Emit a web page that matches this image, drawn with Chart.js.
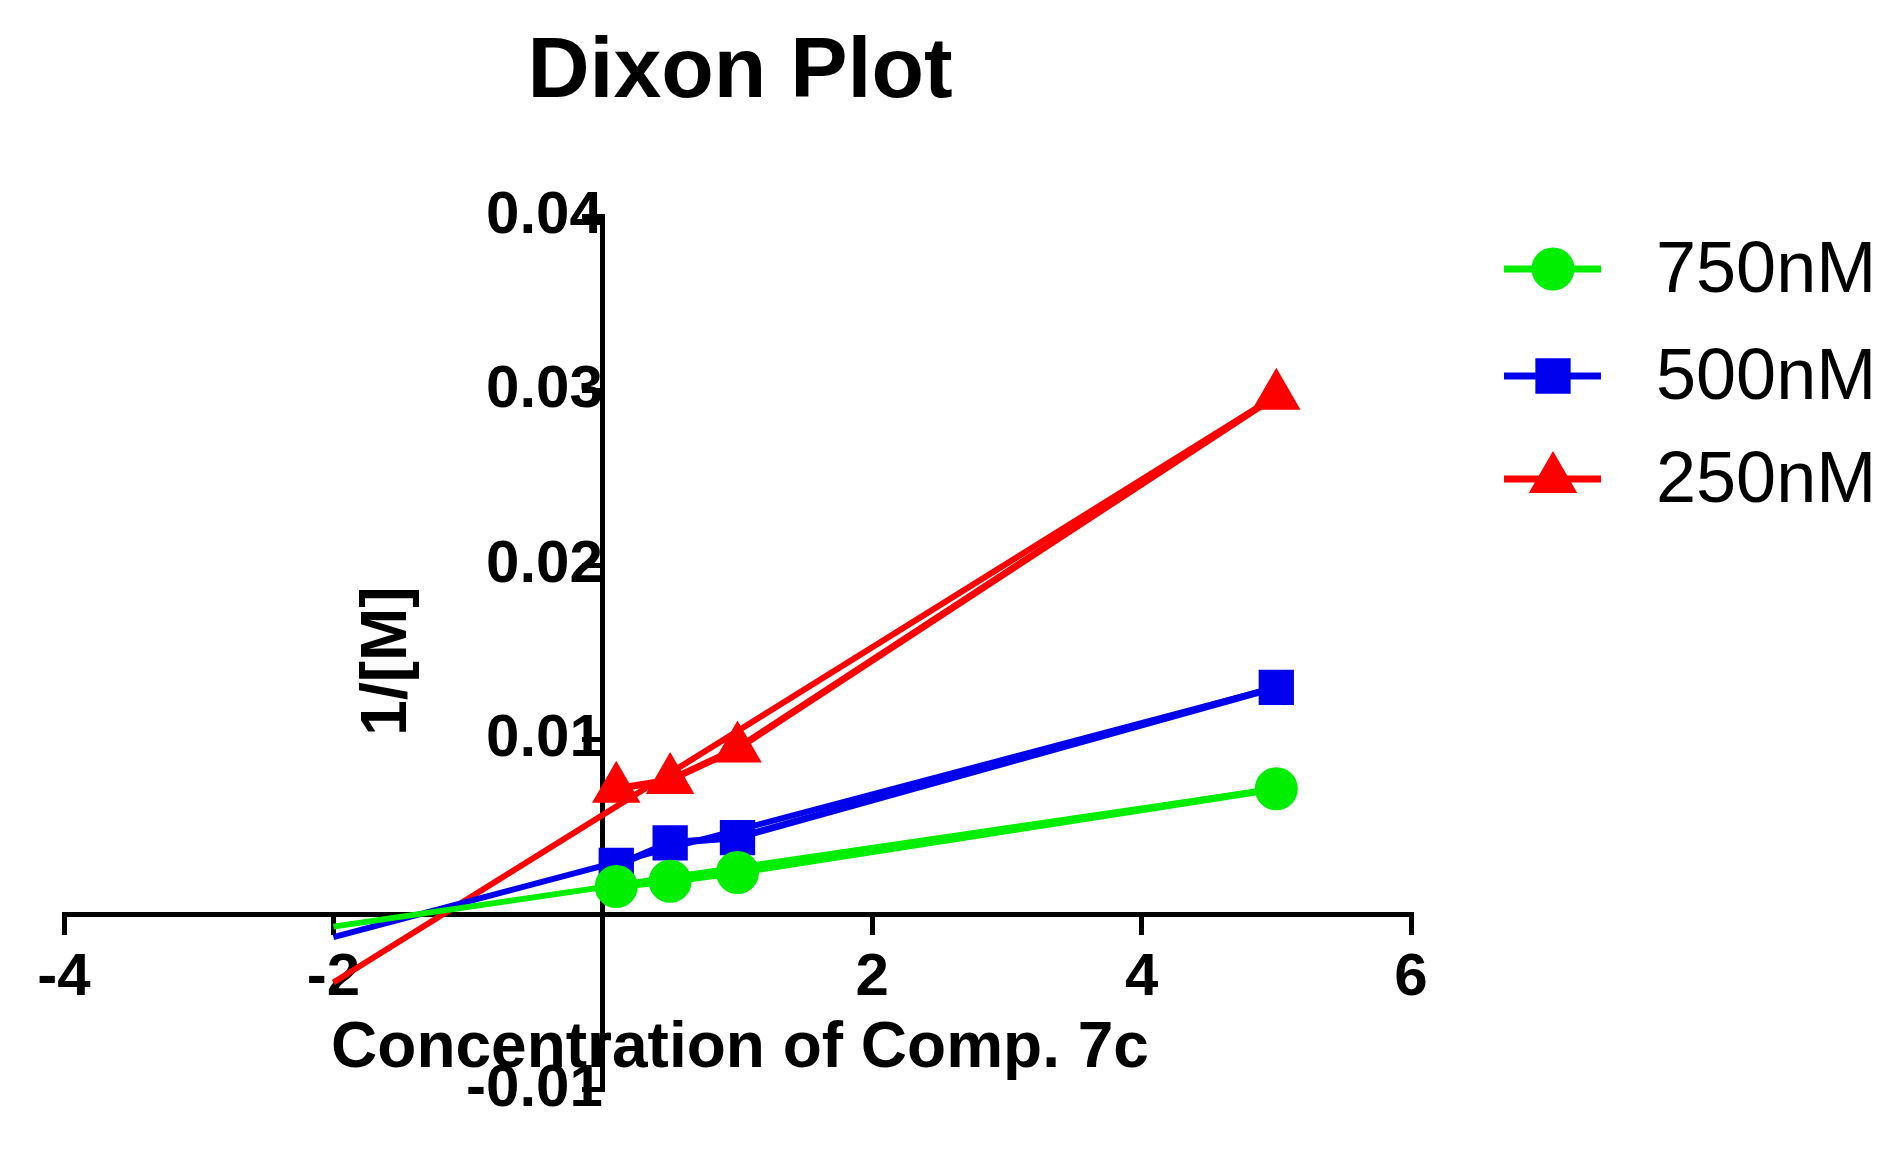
<!DOCTYPE html>
<html>
<head>
<meta charset="utf-8">
<script src="https://cdn.jsdelivr.net/npm/chart.js@4/dist/chart.umd.min.js"></script>
<style>
  html, body { margin: 0; padding: 0; background: #fff; }
  #wrap { width: 1892px; height: 1161px; }
</style>
</head>
<body>
<div id="wrap"><canvas id="dixonChart"></canvas></div>
<script>
// inhibitor concentration (x)
const conc = [0.1, 0.5, 1, 5];
// 1/[M]
const y750 = [0.0016, 0.0019, 0.0024, 0.0072];
const y500 = [0.0028, 0.0041, 0.0044, 0.0130];
const y250 = [0.0072, 0.0077, 0.0095, 0.0297];
// fitted line ends (x = -2 and x = 5)
const fitX = [-2, 5];
const fit750 = [-0.0007, 0.0072];
const fit500 = [-0.0013, 0.0130];
const fit250 = [-0.0039, 0.0297];

const seriesNames = ['750nM', '500nM', '250nM'];
const colors = ['#00ee00', '#0000ee', '#ff0000'];
const markers = ['circle', 'rect', 'triangle'];
const markerSize = [18, 20, 21];

function pts(xs, ys) {
  return xs.map((x, i) => ({ x: x, y: ys[i] }));
}

const FAM = 'Liberation Sans, Arial, sans-serif';
const tickFont = { family: FAM, weight: 'bold', size: 60 };

// title, axis titles and legend drawn by hand so they sit where the original has them
const extras = {
  id: 'extras',
  afterDraw(chart) {
    const c = chart.ctx;
    c.save();
    c.fillStyle = '#000';
    c.textAlign = 'center';
    c.textBaseline = 'middle';
    c.font = 'bold 86px ' + FAM;
    c.fillText('Dixon Plot', 740, 73);
    c.font = 'bold 64px ' + FAM;
    c.fillText('Concentration of Comp. 7c', 740, 1049);
    c.save();
    c.translate(388, 661);
    c.rotate(-Math.PI / 2);
    c.fillText('1/[M]', 0, 0);
    c.restore();

    const rows = [269, 376, 479];
    c.font = '72px ' + FAM;
    c.textAlign = 'left';
    rows.forEach((ry, i) => {
      c.strokeStyle = colors[i];
      c.fillStyle = colors[i];
      c.lineWidth = 7;
      c.beginPath();
      c.moveTo(1504, ry);
      c.lineTo(1601, ry);
      c.stroke();
      Chart.helpers.drawPoint(c, { pointStyle: markers[i], radius: markerSize[i], borderWidth: 1, rotation: 0 }, 1553, ry);
      c.fillStyle = '#000';
      c.fillText(seriesNames[i], 1656, ry + 3);
    });
    c.restore();
  }
};

const datasets = seriesNames.map((name, i) => ({
  label: name,
  data: pts(conc, [y750, y500, y250][i]),
  showLine: true,
  borderColor: colors[i],
  backgroundColor: colors[i],
  borderWidth: 7,
  pointStyle: markers[i],
  pointRadius: markerSize[i]
}));
[fit750, fit500, fit250].forEach((f, i) => {
  datasets.push({ label: 'fit' + seriesNames[i], data: pts(fitX, f), showLine: true,
    borderColor: colors[i], borderWidth: 6, pointRadius: 0 });
});

const ctx = document.getElementById('dixonChart').getContext('2d');
new Chart(ctx, {
  type: 'scatter',
  data: { datasets: datasets },
  plugins: [extras],
  options: {
    responsive: true,
    maintainAspectRatio: false,
    animation: false,
    layout: { padding: { left: 64, top: 216, right: 481, bottom: 51 } },
    plugins: {
      title: { display: false },
      legend: { display: false },
      tooltip: { enabled: false }
    },
    scales: {
      x: {
        type: 'linear',
        min: -4, max: 6,
        position: { y: 0 },
        grid: { drawOnChartArea: false, color: '#000', tickLength: 18, lineWidth: 5 },
        border: { color: '#000', width: 5 },
        ticks: { stepSize: 2, color: '#000', font: tickFont, padding: 10,
          callback: v => v === 0 ? '' : v }
      },
      y: {
        type: 'linear',
        min: -0.01, max: 0.04,
        position: { x: 0 },
        grid: { drawOnChartArea: false, color: '#000', tickLength: 18, lineWidth: 5 },
        border: { color: '#000', width: 5 },
        ticks: { stepSize: 0.01, color: '#000', font: tickFont, padding: 36,
          callback: v => Math.abs(v) < 1e-9 ? '' : v.toFixed(2) }
      }
    }
  }
});
</script>
</body>
</html>
